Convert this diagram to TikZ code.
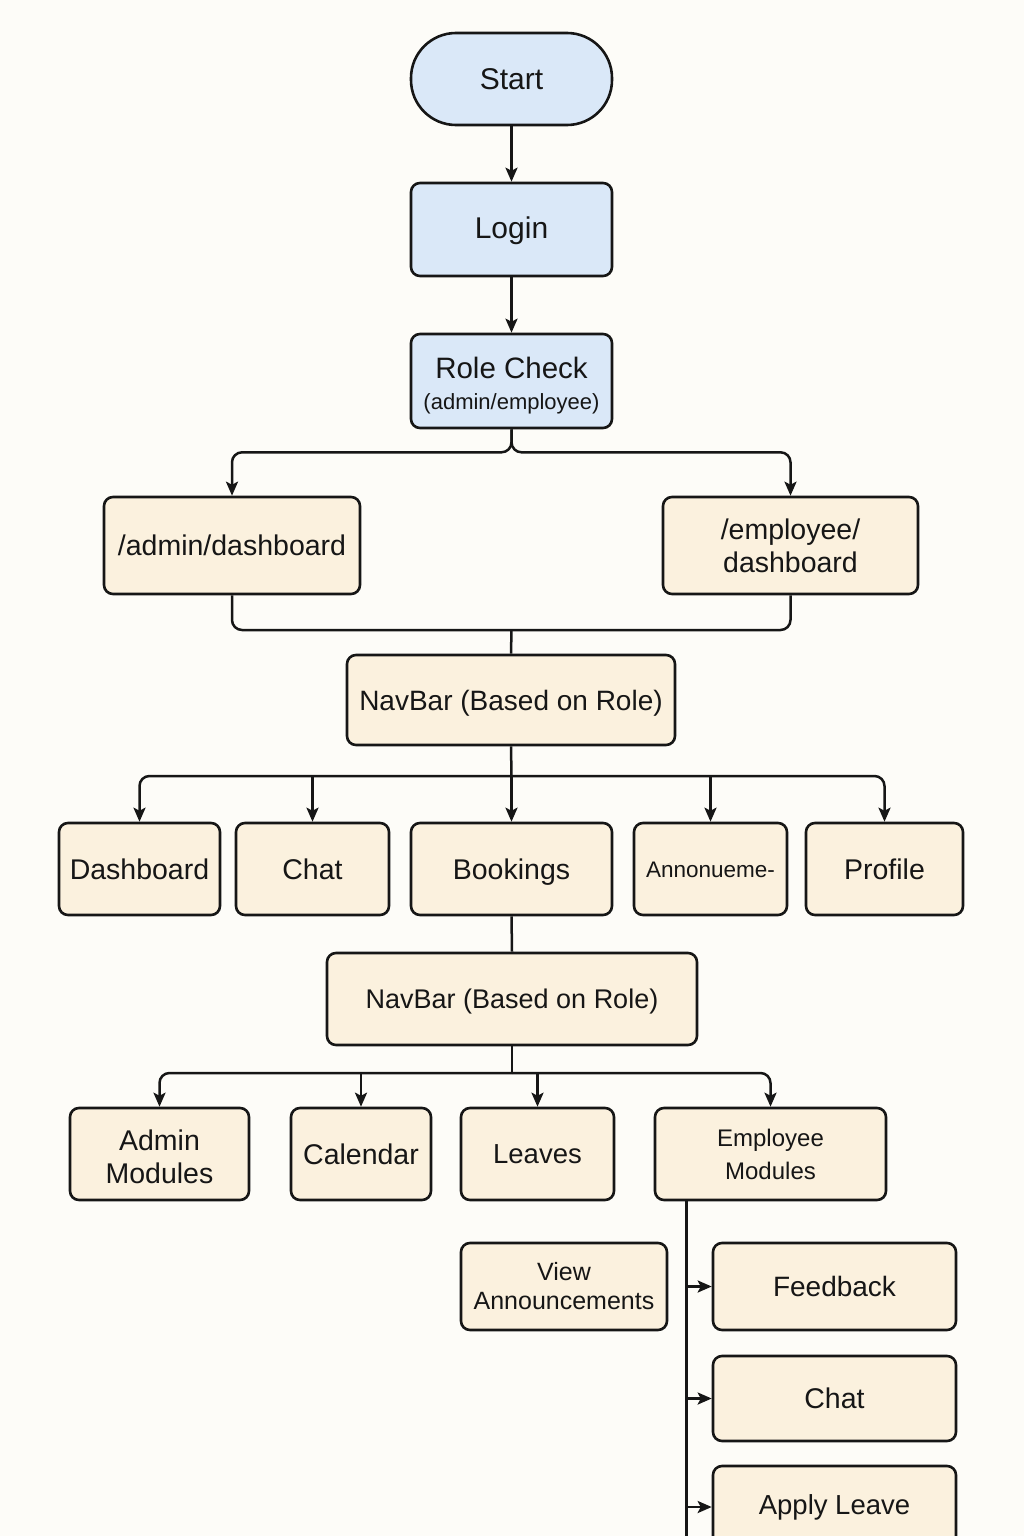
\documentclass[tikz,border=0pt]{standalone}
\usepackage{fontspec}
\setmainfont{Liberation Sans}
\usetikzlibrary{arrows.meta,calc}
\definecolor{bgcol}{HTML}{FDFCF8}
\definecolor{cream}{HTML}{FBF1DE}
\definecolor{lblue}{HTML}{DAE8F8}
\definecolor{ink}{HTML}{161616}
\tikzset{
  box/.style={draw=ink, line width=2.6pt, rounded corners=9pt, fill=cream, inner sep=0pt, align=center, font=\fontsize{28.5}{33}\selectfont, text=ink},
  bbox/.style={box, fill=lblue},
  one/.style={text height=#1, text depth=0pt},
  arr/.style={draw=ink, line width=2.5pt, -{Stealth[length=14pt,width=12pt,inset=3pt]}},
  ln/.style={draw=ink, line width=2.5pt},
  rc/.style={rounded corners=10pt},
  lbl/.style={inner sep=0pt, text=ink, align=center}
}
\begin{document}
\begin{tikzpicture}[x=1pt,y=1pt]
\fill[bgcol] (0,0) rectangle (1024,-1536);
\useasboundingbox (0,0) rectangle (1024,-1536);
% top
\node[bbox, rounded corners=45pt, minimum width=201pt, minimum height=92pt, font=\fontsize{30}{34}\selectfont, one=21.5pt] (start) at (511.5,-79) {Start};
\node[bbox, minimum width=201pt, minimum height=93pt, font=\fontsize{30}{34}\selectfont, text height=21.5pt, text depth=3pt] (login) at (511.5,-229.5) {Login};
\node[bbox, minimum width=201pt, minimum height=94pt] (role) at (511.5,-381) {};
\node[lbl, font=\fontsize{29.5}{34}\selectfont, one=21pt] (rolea) at (511.5,-367.5) {Role Check};
\node[lbl, font=\fontsize{22}{26}\selectfont, one=16pt] (roleb) at (511.5,-401) {(admin/employee)};
\draw[arr] (start) -- (login);
\draw[arr] (login) -- (role);
% dashboards
\node[box, minimum width=256pt, minimum height=97pt, one=20.4pt] (adm) at (232,-545.5) {/admin/dashboard};
\node[box, minimum width=255pt, minimum height=97pt] (emp) at (790.5,-545.5) {/employee/\\dashboard};
\coordinate (j0) at ($(role.south)+(0,-23)$);
\draw[arr, rc] (role.south) -- (j0) -| (adm.north);
\draw[arr, rc] (role.south) -- (j0) -| (emp.north);
% merge
\coordinate (j1) at (511.5,-630);
\draw[ln, rc] (adm.south) |- (j1) -| (emp.south);
\node[box, minimum width=328pt, minimum height=90pt, font=\fontsize{28}{33}\selectfont, one=20pt] (nav1) at (511,-700) {NavBar (Based on Role)};
\draw[ln] (j1) -- (nav1.north);
% first row
\node[box, minimum width=161pt, minimum height=92pt, one=20.4pt] (dash) at (139.5,-869) {Dashboard};
\node[box, minimum width=153pt, minimum height=92pt, one=20.4pt] (chat) at (312.5,-869) {Chat};
\node[box, minimum width=201pt, minimum height=92pt, one=20.4pt] (book) at (511.5,-869) {Bookings};
\node[box, minimum width=153pt, minimum height=92pt, font=\fontsize{22.5}{26}\selectfont, one=16.1pt] (ann) at (710.5,-869) {Annonueme-};
\node[box, minimum width=157pt, minimum height=92pt, one=20.4pt] (prof) at (884.5,-869) {Profile};
\coordinate (j2) at (511.5,-776);
\draw[ln] (nav1.south) -- (j2);
\draw[arr, rc] (j2) -| (dash.north);
\draw[arr, rc] (j2) -| (prof.north);
\draw[arr] (j2 -| chat.north) -- (chat.north);
\draw[arr] (j2) -- (book.north);
\draw[arr] (j2 -| ann.north) -- (ann.north);
% second navbar
\node[box, minimum width=370pt, minimum height=92pt, font=\fontsize{27}{32}\selectfont, one=19.3pt] (nav2) at (512,-999) {NavBar (Based on Role)};
\draw[ln] (book.south) -- (nav2.north);
% second row
\node[box, minimum width=179pt, minimum height=92pt] (amod) at (159.5,-1154) {};
\node[lbl, font=\fontsize{28.5}{33}\selectfont] (amodt) at (159.5,-1157) {Admin\\Modules};
\node[box, minimum width=140pt, minimum height=92pt, text height=20.4pt, text depth=-3pt] (cal) at (361,-1154) {Calendar};
\node[box, minimum width=153pt, minimum height=92pt, font=\fontsize{27.5}{32}\selectfont, one=19.7pt] (lv) at (537.5,-1154) {Leaves};
\node[box, minimum width=231pt, minimum height=92pt, font=\fontsize{24}{33}\selectfont] (emod) at (770.5,-1154) {Employee\\Modules};
\coordinate (j3) at (512,-1073);
\draw[ln] (nav2.south) -- (j3);
\draw[arr, rc] (j3) -| (amod.north);
\draw[arr, rc] (j3) -| (emod.north);
\draw[arr] (j3 -| cal.north) -- (cal.north);
\draw[arr] (j3 -| lv.north) -- (lv.north);
% employee modules list
\node[box, minimum width=206pt, minimum height=87pt, font=\fontsize{25}{29}\selectfont] (view) at (564,-1286.5) {View\\Announcements};
\node[box, minimum width=243pt, minimum height=87pt, font=\fontsize{28}{33}\selectfont, one=20pt] (fb) at (834.5,-1286.5) {Feedback};
\node[box, minimum width=243pt, minimum height=85pt, one=20.4pt] (chat2) at (834.5,-1398.5) {Chat};
\node[box, minimum width=243pt, minimum height=90pt, font=\fontsize{27.5}{33}\selectfont, text height=19.7pt, text depth=12pt] (apl) at (834.5,-1511) {Apply Leave};
\coordinate (vtop) at ($(emod.south west)+(33,0)$);
\coordinate (vbot) at ($(vtop)+(0,-350)$);
\draw[ln] (vtop) -- (vbot);
\draw[arr] (vtop |- fb.west) -- (fb.west);
\draw[arr] (vtop |- chat2.west) -- (chat2.west);
\draw[arr] (vtop |- 0,-1507) -- (apl.west |- 0,-1507);
\end{tikzpicture}
\end{document}
